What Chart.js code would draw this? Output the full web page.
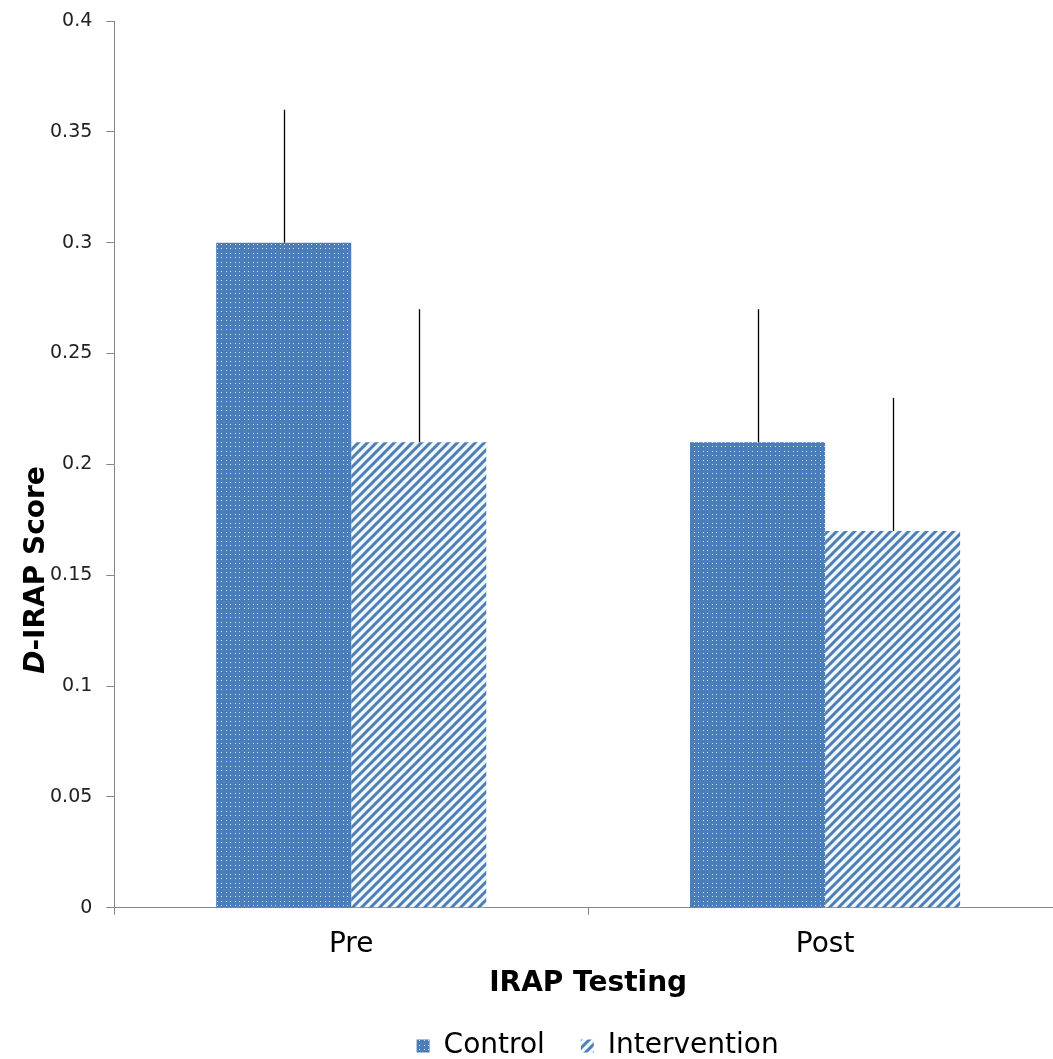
<!DOCTYPE html>
<html>
<head>
<meta charset="utf-8">
<script src="https://cdn.jsdelivr.net/npm/chart.js@4.4.0/dist/chart.umd.min.js"></script>
<style>
html,body{margin:0;padding:0;background:#fff;overflow:hidden;}
#wrap{width:1053px;height:1059px;position:relative;overflow:hidden;}
</style>
</head>
<body>
<div id="wrap"><canvas id="c"></canvas></div>
<script>
const categories = ["Pre", "Post"];
const seriesNames = ["Control", "Intervention"];
const controlValues = [0.30, 0.21];
const interventionValues = [0.21, 0.17];
const controlErrors = [0.06, 0.06];
const interventionErrors = [0.06, 0.06];
const yTickLabels = ["0", "0.05", "0.1", "0.15", "0.2", "0.25", "0.3", "0.35", "0.4"];
const xTitle = "IRAP Testing";
const yTitleItalic = "D";
const yTitleRest = "-IRAP Score";

function dotPattern() {
  const t = document.createElement('canvas');
  t.width = 9; t.height = 9;
  const g = t.getContext('2d');
  g.fillStyle = '#4a7ebb';
  g.fillRect(0, 0, 9, 9);
  g.fillStyle = '#d3e3f4';
  [[1,1],[5,1],[1,5],[5,5]].forEach(p => g.fillRect(p[0], p[1], 1, 1));
  return g.createPattern(t, 'repeat');
}
function hatchPattern() {
  const s = 9;
  const t = document.createElement('canvas');
  t.width = s; t.height = s;
  const g = t.getContext('2d');
  g.fillStyle = '#eef8fd';
  g.fillRect(0, 0, s, s);
  g.strokeStyle = '#4f7db5';
  g.lineWidth = 3.0;
  g.beginPath();
  g.moveTo(-1, s + 1); g.lineTo(s + 1, -1);
  g.moveTo(-1, 1); g.lineTo(1, -1);
  g.moveTo(s - 1, s + 1); g.lineTo(s + 1, s - 1);
  g.stroke();
  return g.createPattern(t, 'repeat');
}

const errorBars = {
  id: 'errorBars',
  afterDatasetsDraw(chart) {
    const ctx = chart.ctx;
    const y = chart.scales.y;
    ctx.save();
    ctx.strokeStyle = '#000';
    ctx.lineWidth = 1.3;
    chart.data.datasets.forEach((ds, i) => {
      const meta = chart.getDatasetMeta(i);
      meta.data.forEach((el, j) => {
        const v = ds.data[j];
        const e = ds.errors[j];
        const x = Math.round(el.x) + 0.5;
        ctx.beginPath();
        ctx.moveTo(x, y.getPixelForValue(v));
        ctx.lineTo(x, y.getPixelForValue(v + e));
        ctx.stroke();
      });
    });
    ctx.restore();
  }
};

// The plot area of the original runs a little past the right edge of the picture.
const extendRight = {
  id: 'extendRight',
  afterLayout(chart) {
    const extra = 9;
    const s = chart.scales.x;
    s.right += extra;
    s.width += extra;
    s.configure();
    s._gridLineItems = null;
    s._labelItems = null;
    chart.chartArea.right += extra;
    chart.chartArea.width += extra;
    if (chart.legend) {
      chart.legend.left += 14;
      chart.legend.right += 14;
    }
  }
};

const yTitlePlugin = {
  id: 'yTitle',
  afterDraw(chart) {
    const ctx = chart.ctx;
    ctx.save();
    const fItal = 'italic bold 28px "DejaVu Sans"';
    const fBold = 'bold 28px "DejaVu Sans"';
    ctx.font = fItal;
    const w1 = ctx.measureText(yTitleItalic).width;
    ctx.font = fBold;
    const w2 = ctx.measureText(yTitleRest).width;
    const total = w1 + w2;
    const cy = 570;
    const bx = 44;
    ctx.translate(bx, cy);
    ctx.rotate(-Math.PI / 2);
    ctx.fillStyle = '#000';
    ctx.textBaseline = 'alphabetic';
    ctx.textAlign = 'left';
    ctx.font = fItal;
    ctx.fillText(yTitleItalic, -total / 2, 0);
    ctx.font = fBold;
    ctx.fillText(yTitleRest, -total / 2 + w1, 0);
    ctx.restore();
  }
};

const ctx = document.getElementById('c').getContext('2d');
new Chart(ctx, {
  type: 'bar',
  data: {
    labels: categories,
    datasets: [
      { label: seriesNames[0], data: controlValues, errors: controlErrors,
        backgroundColor: dotPattern(), borderWidth: 0 },
      { label: seriesNames[1], data: interventionValues, errors: interventionErrors,
        backgroundColor: hatchPattern(), borderWidth: 0 }
    ]
  },
  options: {
    responsive: true,
    maintainAspectRatio: false,
    animation: false,
    devicePixelRatio: 1,
    layout: { padding: { left: 36, right: 0, top: 21, bottom: -11 } },
    datasets: { bar: { categoryPercentage: 0.57, barPercentage: 1.0 } },
    plugins: {
      legend: {
        position: 'bottom',
        fullSize: false,
        labels: {
          font: { family: 'DejaVu Sans', size: 28 },
          color: '#000',
          boxWidth: 13, boxHeight: 13,
          padding: 36
        }
      },
      tooltip: { enabled: false }
    },
    scales: {
      x: {
        offset: true,
        grid: { offset: true, drawOnChartArea: false, drawTicks: true, tickLength: 7, color: '#868686', lineWidth: 1 },
        border: { display: true, color: '#868686', width: 1 },
        ticks: { font: { family: 'DejaVu Sans', size: 28 }, color: '#000', padding: 13 },
        title: { display: true, text: xTitle, font: { family: 'DejaVu Sans', size: 28, weight: 'bold' }, color: '#000', padding: { top: -7, bottom: -5 } }
      },
      y: {
        min: 0, max: 0.4,
        afterFit: (s) => { s.paddingTop = 0; },
        ticks: { stepSize: 0.05, font: { family: 'DejaVu Sans', size: 19 }, color: '#222', padding: 14,
          callback: (v, i) => yTickLabels[i] },
        grid: { drawOnChartArea: false, drawTicks: true, tickLength: 8, color: '#868686', lineWidth: 1 },
        border: { display: true, color: '#868686', width: 1 }
      }
    }
  },
  plugins: [errorBars, yTitlePlugin, extendRight]
});
</script>
</body>
</html>
